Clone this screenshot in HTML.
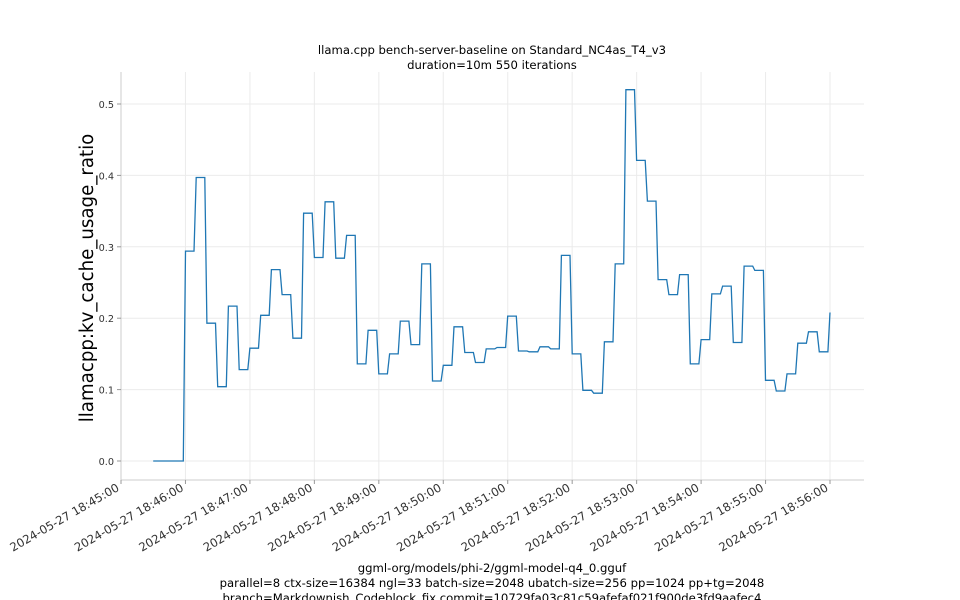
<!DOCTYPE html>
<html><head><meta charset="utf-8"><style>
body{margin:0;background:#fff;}
svg{display:block;font-family:"DejaVu Sans","Liberation Sans",sans-serif;}
</style></head><body>
<svg id="chart" width="960" height="600" viewBox="0 0 960 600">
  <g font-size="11.65" text-anchor="middle" fill="#000">
    <text x="492" y="54">llama.cpp bench-server-baseline on Standard_NC4as_T4_v3</text>
    <text x="492" y="69">duration=10m 550 iterations</text>
  </g>
  <g id="grid"></g>
  <line x1="121" y1="72" x2="121" y2="480" stroke="#ccc"/>
  <line x1="121" y1="480" x2="864" y2="480" stroke="#ccc"/>
  <g id="yticks"></g>
  <g id="xticks"></g>
  <path id="series" fill="none" stroke="#1f77b4" stroke-width="1.3"/>
  <text transform="translate(93,278) rotate(-90)" text-anchor="middle" font-size="18.2">llamacpp:kv_cache_usage_ratio</text>
  <g font-size="11.65" text-anchor="middle">
    <text x="492" y="572">ggml-org/models/phi-2/ggml-model-q4_0.gguf</text>
    <text x="492" y="587">parallel=8 ctx-size=16384 ngl=33 batch-size=2048 ubatch-size=256 pp=1024 pp+tg=2048</text>
    <text x="492" y="602">branch=Markdownish_Codeblock_fix commit=10729fa03c81c59afefaf021f900de3fd9aafec4</text>
  </g>
</svg>
<script>
const times=[30,40,50,60,70,80,90,100,110,120,130,140,150,160,170,180,190,200,210,220,230,240,250,260,270,280,290,300,310,320,330,340,350,360,370,380,390,400,410,420,430,440,450,460,470,480,490,500,510,520,530,540,550,560,570,580,590,600,610,620,630,640,650,660];
const values=[0,0,0,0.294,0.397,0.193,0.104,0.217,0.128,0.158,0.204,0.268,0.233,0.172,0.347,0.285,0.363,0.284,0.316,0.136,0.183,0.122,0.150,0.196,0.163,0.276,0.112,0.134,0.188,0.152,0.138,0.157,0.159,0.203,0.154,0.153,0.160,0.157,0.288,0.150,0.099,0.095,0.167,0.276,0.520,0.421,0.364,0.254,0.233,0.261,0.136,0.170,0.234,0.245,0.166,0.273,0.267,0.113,0.098,0.122,0.165,0.181,0.153,0.208];
const yTicks=[0.0,0.1,0.2,0.3,0.4,0.5];
const xTickMinutes=[0,1,2,3,4,5,6,7,8,9,10,11];
const xTickLabels=["2024-05-27 18:45:00","2024-05-27 18:46:00","2024-05-27 18:47:00","2024-05-27 18:48:00","2024-05-27 18:49:00","2024-05-27 18:50:00","2024-05-27 18:51:00","2024-05-27 18:52:00","2024-05-27 18:53:00","2024-05-27 18:54:00","2024-05-27 18:55:00","2024-05-27 18:56:00"];
const NS="http://www.w3.org/2000/svg";
function xs(sec){return 121+sec*(709/660);}
function ys(v){return 461-v*714;}
const grid=document.getElementById('grid'),yt=document.getElementById('yticks'),xt=document.getElementById('xticks');
yTicks.forEach(v=>{
  const y=ys(v);
  const g=document.createElementNS(NS,'line');
  g.setAttribute('x1',121);g.setAttribute('x2',864);g.setAttribute('y1',y);g.setAttribute('y2',y);g.setAttribute('stroke','#ebebeb');
  
  
  grid.appendChild(g);
  const t=document.createElementNS(NS,'line');
  t.setAttribute('x1',117);t.setAttribute('x2',121);t.setAttribute('y1',y);t.setAttribute('y2',y);t.setAttribute('stroke','#999');
  yt.appendChild(t);
  const l=document.createElementNS(NS,'text');
  l.setAttribute('x',114);l.setAttribute('y',y+4);l.setAttribute('text-anchor','end');l.setAttribute('font-size','9.7');l.setAttribute('fill','#333');
  l.textContent=v.toFixed(1);
  
  
  yt.appendChild(l);
});
xTickMinutes.forEach((m,i)=>{
  const x=xs(m*60);
  const g=document.createElementNS(NS,'line');
  g.setAttribute('x1',x);g.setAttribute('x2',x);g.setAttribute('y1',72);g.setAttribute('y2',480);g.setAttribute('stroke','#ebebeb');
  
  
  grid.appendChild(g);
  const t=document.createElementNS(NS,'line');
  t.setAttribute('x1',x);t.setAttribute('x2',x);t.setAttribute('y1',480);t.setAttribute('y2',484);t.setAttribute('stroke','#999');
  xt.appendChild(t);
  const l=document.createElementNS(NS,'text');
  l.setAttribute('transform','translate('+(x-1)+',490) rotate(-30)');
  l.setAttribute('text-anchor','end');l.setAttribute('font-size','11.65');l.setAttribute('fill','#333');
  l.textContent=xTickLabels[i];
  
  
  xt.appendChild(l);
});
let d='';
for(let i=0;i<times.length;i++){
  d+=(i?'L':'M')+xs(times[i]).toFixed(1)+','+ys(values[i]).toFixed(1);
  if(i<times.length-1) d+='L'+xs(times[i+1]-2).toFixed(1)+','+ys(values[i]).toFixed(1);
}
document.getElementById('series').setAttribute('d',d);
</script>
</body></html>
